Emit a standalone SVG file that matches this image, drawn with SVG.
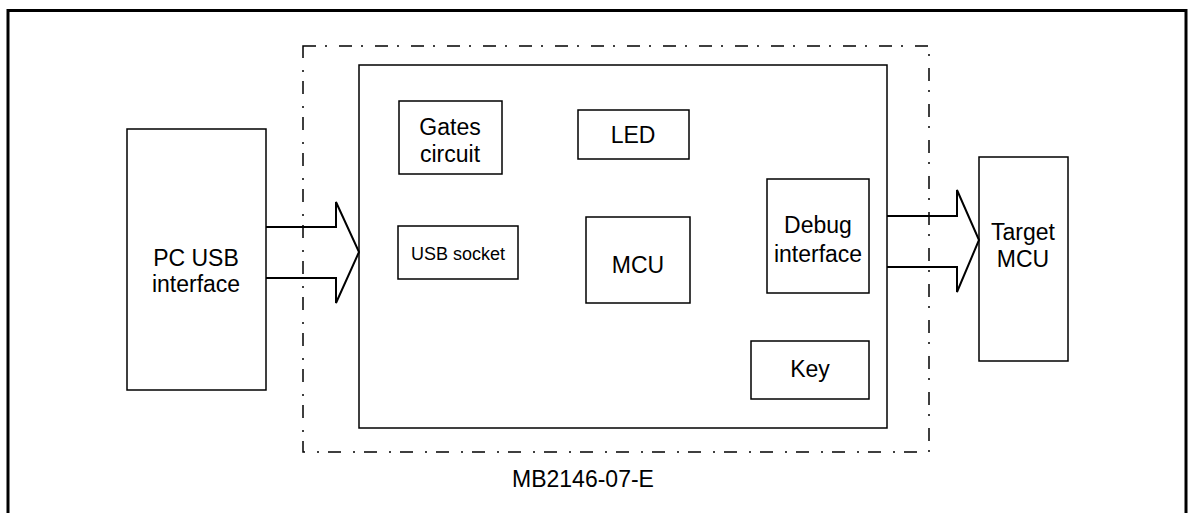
<svg xmlns="http://www.w3.org/2000/svg" width="1192" height="513" viewBox="0 0 1192 513">
<style>
  .box { fill: #fff; stroke: #000; stroke-width: 1.5; }
  .frame { fill: none; stroke: #000; stroke-width: 3; }
  .dashdot { fill: none; stroke: #000; stroke-width: 1.5; stroke-dasharray: 13 9 2 12; }
  .arrow { fill: none; stroke: #000; stroke-width: 2; stroke-linejoin: miter; }
  text { font-family: "Liberation Sans", Arial, sans-serif; font-size: 23px; fill: #000; text-anchor: middle; }
  .small { font-size: 18px; }
</style>
<rect class="frame" x="8" y="10.5" width="1178" height="520"/>
<rect id="board-outline" class="dashdot" x="303" y="46" width="626" height="406"/>
<g id="pc-usb">
  <rect class="box" x="127" y="129" width="139" height="261"/>
  <text x="196" y="266">PC USB</text>
  <text x="196" y="292">interface</text>
</g>
<g id="board">
  <rect class="box" x="359" y="65" width="528" height="363"/>
</g>
<g id="gates">
  <rect class="box" x="399" y="101" width="103" height="73"/>
  <text x="450" y="135">Gates</text>
  <text x="450" y="162">circuit</text>
</g>
<g id="led">
  <rect class="box" x="578" y="110" width="111" height="49"/>
  <text x="633" y="143">LED</text>
</g>
<g id="usb-socket">
  <rect class="box" x="398" y="226" width="120" height="53"/>
  <text class="small" x="458" y="260">USB socket</text>
</g>
<g id="mcu">
  <rect class="box" x="586" y="217" width="104" height="86"/>
  <text x="638" y="273">MCU</text>
</g>
<g id="debug">
  <rect class="box" x="767" y="179" width="102" height="114"/>
  <text x="818" y="233">Debug</text>
  <text x="818" y="262">interface</text>
</g>
<g id="key">
  <rect class="box" x="751" y="341" width="118" height="58"/>
  <text x="810" y="377">Key</text>
</g>
<g id="target">
  <rect class="box" x="979" y="157" width="89" height="204"/>
  <text x="1023" y="240">Target</text>
  <text x="1023" y="267">MCU</text>
</g>
<g id="connectors">
  <path class="arrow" d="M266,227 H336 V202 L359,252 L336,303 V278 H266"/>
  <path class="arrow" d="M887,216 H957 V190 L979,240 L957,292 V267 H887"/>
</g>
<text x="583" y="487" style="font-size:23px">MB2146-07-E</text>
</svg>
